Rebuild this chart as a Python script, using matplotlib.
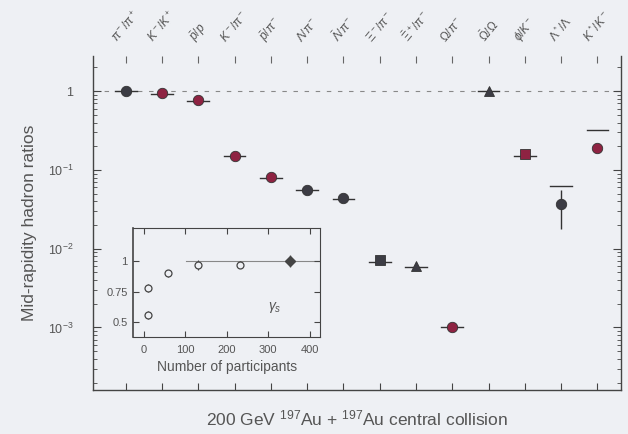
import numpy as np
import matplotlib
matplotlib.use('Agg')
from matplotlib import pyplot as plt
from matplotlib.ticker import FixedLocator, FuncFormatter, LogLocator, NullFormatter

plt.rcParams['font.family'] = ['Liberation Sans', 'DejaVu Sans']
plt.rcParams['mathtext.fontset'] = 'custom'
plt.rcParams['mathtext.rm'] = 'Liberation Sans'
plt.rcParams['mathtext.it'] = 'Liberation Sans:italic'

# particle ratios, central Au+Au at 200 GeV
ratio_labels = [r'$\pi^-/\pi^+$', r'$K^-/K^+$', r'$\bar{p}/p$', r'$K^-/\pi^-$',
                r'$\bar{p}/\pi^-$', r'$\Lambda/\pi^-$', r'$\bar{\Lambda}/\pi^-$',
                r'$\Xi^-/\pi^-$', r'$\bar{\Xi}^+/\pi^-$', r'$\Omega/\pi^-$',
                r'$\bar{\Omega}/\Omega$', r'$\phi/K^-$', r'$\Lambda^*/\Lambda$',
                r'$K^*/K^-$']
ratio_values = [1.0, 0.94, 0.77, 0.15, 0.082, 0.056, 0.044,
                0.0071, 0.006, 0.00102, 1.02, 0.16, 0.037, 0.19]
ratio_err_lo = [0.03, 0.03, 0.04, 0.01, 0.006, 0.004, 0.003,
                0.0005, 0.0005, 0.0001, 0.05, 0.01, 0.019, 0.02]
ratio_err_hi = [0.03, 0.03, 0.04, 0.01, 0.006, 0.004, 0.003,
                0.0005, 0.0005, 0.0001, 0.08, 0.01, 0.018, 0.02]
model_values = [1.0, 0.93, 0.75, 0.15, 0.08, 0.055, 0.043,
                0.0068, 0.0058, 0.001, 1.0, 0.15, 0.063, 0.32]
is_red = [False, True, True, True, True, False, False,
          False, False, True, False, True, False, True]
marker_kind = ['o', 'o', 'o', 'o', 'o', 'o', 'o',
               's', '^', 'o', '^', 's', 'o', 'o']

# inset: gamma_s vs number of participants
npart = [10, 10, 60, 132, 232, 352]
gamma_s = [0.56, 0.78, 0.90, 0.97, 0.97, 1.0]
gamma_err = [0.03, 0.03, 0.03, 0.04, 0.03, 0.05]

txt = '#555555'
bg = '#eef0f4'
red = '#8e2342'
dark = '#3c3c44'

fig = plt.figure(figsize=(6.28, 4.34), dpi=100)
fig.patch.set_facecolor(bg)
ax = fig.add_axes([0.148, 0.101, 0.841, 0.770])
ax.set_facecolor(bg)

x = np.arange(len(ratio_values))
ax.axhline(1.0, color='#888888', lw=0.8, ls=(0, (4, 6)), zorder=1)
for i in x:
    c = red if is_red[i] else dark
    ax.errorbar(i, ratio_values[i], yerr=[[ratio_err_lo[i]], [ratio_err_hi[i]]],
                fmt=marker_kind[i], ms=7.5, color=c, mec='#333333', mew=0.6,
                ecolor='#333333', elinewidth=1.0, capsize=0, zorder=3)
    ax.plot([i - 0.3, i + 0.3], [model_values[i]] * 2, color='#333333', lw=1.0, zorder=2)

ax.set_yscale('log')
ax.set_ylim(1.6e-4, 2.8)
ax.set_xlim(-0.9, 13.65)
ax.yaxis.set_major_locator(FixedLocator([1e-3, 1e-2, 1e-1, 1]))
ax.yaxis.set_minor_locator(LogLocator(base=10, subs=np.arange(2, 10)))
ax.yaxis.set_minor_formatter(NullFormatter())
ax.yaxis.set_major_formatter(FuncFormatter(
    lambda v, p: '1' if v == 1 else r'$10^{%d}$' % round(np.log10(v))))
ax.set_xticks(x)
ax.set_xticklabels([])
ax.tick_params(axis='both', which='both', direction='in', colors='#444444',
               labelcolor=txt, right=True)
ax.tick_params(axis='y', which='major', length=6, pad=14, labelsize=9)
ax.tick_params(axis='y', which='minor', length=3)
ax.tick_params(axis='x', length=5)
ax.spines['top'].set_visible(False)
for s in ['left', 'right', 'bottom']:
    ax.spines[s].set_color('#444444')
    ax.spines[s].set_linewidth(1.0)

top = ax.secondary_xaxis('top')
top.set_xticks(x)
top.set_xticklabels(ratio_labels, rotation=50, ha='center', va='bottom',
                    fontsize=8.5, color=txt)
top.tick_params(direction='in', length=5, colors='#666666', labelcolor=txt, pad=8)
top.spines['top'].set_visible(False)

ax.set_ylabel('Mid-rapidity hadron ratios', fontsize=12.5, color=txt, labelpad=8)
ax.set_xlabel(r'200 GeV $^{197}$Au + $^{197}$Au central collision',
              fontsize=12.5, color=txt, labelpad=10)

# inset
ins = fig.add_axes([0.212, 0.2235, 0.298, 0.251])
ins.set_facecolor(bg)
ins.axhline(1.0, xmin=0.28, color='#888888', lw=0.8, zorder=1)
ins.errorbar(npart[:-1], gamma_s[:-1], yerr=gamma_err[:-1], fmt='o', ms=5,
             mfc=bg, mec='#444444', mew=0.9, ecolor='#444444', elinewidth=0.8)
ins.errorbar(npart[-1:], gamma_s[-1:], yerr=gamma_err[-1:], fmt='D', ms=5,
             color='#444444', ecolor='#444444', elinewidth=0.9)
ins.set_xlim(-25, 425)
ins.set_ylim(0.38, 1.27)
ins.set_xticks([0, 100, 200, 300, 400])
ins.set_yticks([0.5, 0.75, 1])
ins.set_yticklabels(['0.5', '0.75', '1'])
ins.tick_params(direction='in', labelsize=8, colors='#444444', labelcolor=txt,
                top=True, right=True, length=4)
ins.tick_params(axis='x', pad=6)
ins.tick_params(axis='y', pad=4)
for s in ins.spines.values():
    s.set_color('#444444')
ins.spines['left'].set_linewidth(1.2)
ins.text(0.72, 0.25, r'$\gamma_s$', transform=ins.transAxes, fontsize=10, color=txt)
ins.set_xlabel('Number of participants', fontsize=10, color=txt, labelpad=3)

fig.savefig('out.png', dpi=100, facecolor=bg)
